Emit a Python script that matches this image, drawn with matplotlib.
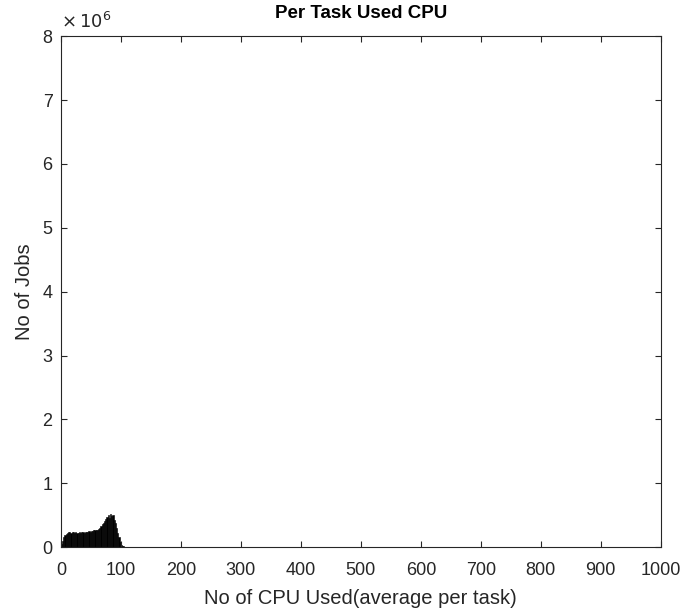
import matplotlib.pyplot as plt
import numpy as np

plt.rcParams['font.family'] = ['Liberation Sans', 'DejaVu Sans']

# histogram of average CPU per task, bins of width 2
bin_edges = np.arange(0, 108, 2)
job_counts = np.array([
    0.05, 0.10, 0.15, 0.19, 0.21, 0.22, 0.23, 0.23, 0.22, 0.23,
    0.23, 0.22, 0.23, 0.22, 0.22, 0.23, 0.22, 0.23, 0.23, 0.22,
    0.23, 0.24, 0.24, 0.25, 0.24, 0.25, 0.25, 0.26, 0.26, 0.27,
    0.26, 0.28, 0.30, 0.33, 0.36, 0.38, 0.41, 0.44, 0.47, 0.50,
    0.46, 0.52, 0.48, 0.51, 0.42, 0.38, 0.30, 0.22, 0.15, 0.08,
    0.04, 0.02, 0.01,
]) * 1e6

xticks = np.arange(0, 1001, 100)
yticks = np.arange(0, 9, 1) * 1e6

fig = plt.figure(figsize=(7, 6.14), dpi=100)
ax = fig.add_axes([0.087, 0.109, 0.857, 0.832])

ax.bar(bin_edges[:-1], job_counts, width=2, align='edge', color='black',
       edgecolor='black', linewidth=0.4)

ax.set_xlim(0, 1000)
ax.set_ylim(0, 8e6)
ax.set_xticks(xticks)
ax.set_yticks(yticks)
ax.set_yticklabels([str(int(v / 1e6)) for v in yticks])

ax.tick_params(direction='in', top=True, right=True, length=4, width=0.8,
               labelsize=13, colors='#262626')
ax.tick_params(axis='x', pad=11)
ax.tick_params(axis='y', pad=6)
for s in ax.spines.values():
    s.set_color('#262626')
    s.set_linewidth(0.8)

ax.set_title('Per Task Used CPU', fontsize=13.5, fontweight='bold', color='black', pad=13)
ax.set_xlabel('No of CPU Used(average per task)', fontsize=14.5, color='#262626', labelpad=7)
ax.set_ylabel('No of Jobs', fontsize=14.5, color='#262626', labelpad=6)
ax.text(0.0, 1.008, r'$\times\,10^6$', transform=ax.transAxes, fontsize=13,
        color='#262626', ha='left', va='bottom')

plt.savefig('out.png', dpi=100)
